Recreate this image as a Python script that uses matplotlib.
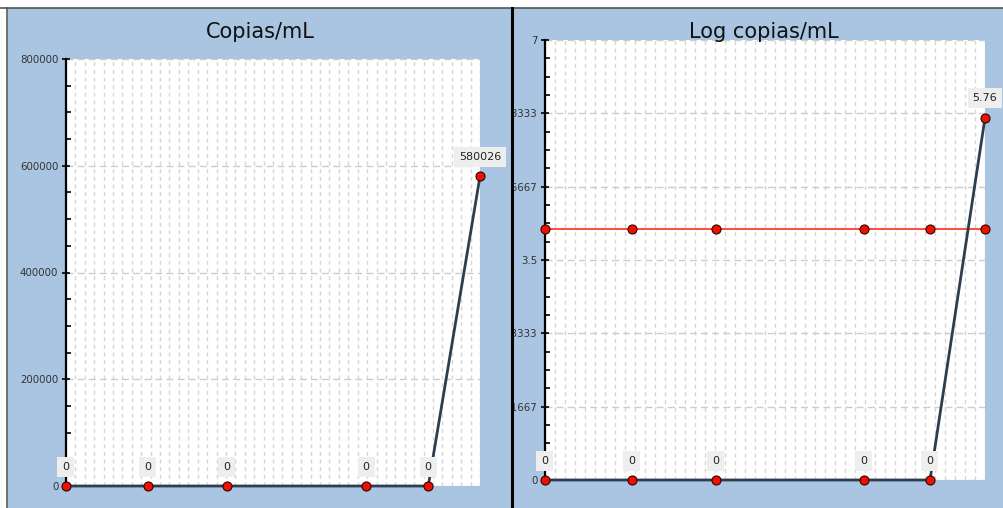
import matplotlib
matplotlib.use("Agg")
import matplotlib.pyplot as plt
from matplotlib.patches import Rectangle
from matplotlib.lines import Line2D
from matplotlib.ticker import MultipleLocator, FixedLocator, AutoMinorLocator
import matplotlib.transforms as mtransforms

# ---- data (x = months since first sample) ----
meses = [0, 8.7, 17.1, 31.9, 38.5, 44]
copias = [0, 0, 0, 0, 0, 580026]
log_copias = [0, 0, 0, 0, 0, 5.76]
umbral_log = [4, 4, 4, 4, 4, 4]
etiquetas_copias = ["0", "0", "0", "0", "0", "580026"]
etiquetas_log = ["0", "0", "0", "0", "0", "5.76"]

ticks_copias = [0, 200000, 400000, 600000, 800000]
ticks_log = [0, 7 / 6, 14 / 6, 3.5, 28 / 6, 35 / 6, 7]
ticks_log_txt = ["0", "1.1667", "2.3333", "3.5", "4.6667", "5.8333", "7"]

azul_fondo = "#a9c5e1"
color_linea = "#2e3d4f"
color_punto = "#ee1100"
color_umbral = "#ff4a3a"

W, H = 1004, 508
fig = plt.figure(figsize=(W / 100, H / 100), dpi=100)
fig.patch.set_facecolor("white")

def fx(px):
    return px / W

def fy(py):
    return 1 - py / H

# panel backgrounds
fig.add_artist(Rectangle((fx(8), 0), fx(503), fy(8), transform=fig.transFigure,
                         facecolor=azul_fondo, edgecolor="none", zorder=-10))
fig.add_artist(Rectangle((fx(514), 0), fx(490), fy(8), transform=fig.transFigure,
                         facecolor=azul_fondo, edgecolor="none", zorder=-10))
fig.add_artist(Line2D([0, 1], [fy(7.5)] * 2, transform=fig.transFigure,
                      color="#555555", lw=1.2, zorder=-5))
fig.add_artist(Line2D([fx(7.5)] * 2, [0, fy(7.5)], transform=fig.transFigure,
                      color="#555555", lw=1.2, zorder=-5))
fig.add_artist(Line2D([fx(512)] * 2, [0, fy(7.5)], transform=fig.transFigure,
                      color="black", lw=2.2, zorder=5))

fig.text(fx(260), fy(32), "Copias/mL", fontsize=15, ha="center", va="center", color="#111111")
fig.text(fx(764), fy(32), "Log copias/mL", fontsize=15, ha="center", va="center",
         color="#111111", zorder=10)


def preparar(ax, ymax, yticks):
    ax.set_facecolor("white")
    ax.set_xlim(meses[0], meses[-1])
    ax.set_ylim(0, ymax)
    for s in ["top", "right", "bottom"]:
        ax.spines[s].set_visible(False)
    ax.spines["left"].set_linewidth(1.6)
    ax.spines["left"].set_color("black")
    ax.xaxis.set_minor_locator(MultipleLocator(1))
    ax.set_xticks([])
    ax.tick_params(axis="x", which="both", length=0, labelbottom=False)
    ax.yaxis.set_major_locator(FixedLocator(yticks))
    ax.yaxis.set_minor_locator(AutoMinorLocator(4))
    ax.tick_params(axis="y", which="major", direction="inout", length=6, width=1.2,
                   labelsize=7.4, labelcolor="#333333", pad=2.5)
    ax.tick_params(axis="y", which="minor", direction="in", length=3.4, width=1.2)
    ax.grid(True, axis="x", which="minor", color="#d6d6d6", ls=(0, (3, 2.5)), lw=1)
    ax.grid(True, axis="y", which="major", color="#cccccc", ls=(0, (5, 3)), lw=1)
    ax.set_axisbelow(True)


def etiquetar(ax, ys, textos):
    for x, y, t in zip(meses, ys, textos):
        ax.annotate(t, xy=(x, y), xytext=(0, 14), textcoords="offset points",
                    ha="center", va="center", fontsize=8, color="#222222",
                    bbox=dict(boxstyle="square,pad=0.45", fc="#eeeeee", ec="none"),
                    annotation_clip=False, zorder=6)


# ---- left: copias/mL ----
ax1 = fig.add_axes([fx(66), fy(486), fx(414), (486 - 59) / H])
preparar(ax1, 800000, ticks_copias)
ax1.set_yticklabels([str(t) for t in ticks_copias])
ax1.plot(meses, copias, color=color_linea, lw=2, zorder=3, clip_on=False)
ax1.plot(meses, copias, "o", ms=6.5, mfc=color_punto, mec="#330000", mew=0.8,
         zorder=4, clip_on=False)
etiquetar(ax1, copias, etiquetas_copias)

# ---- right: log copias/mL ----
ax2 = fig.add_axes([fx(545), fy(480), fx(440), (480 - 40) / H])
preparar(ax2, 7, ticks_log)
ax2.set_yticklabels(ticks_log_txt)
ax2.plot(meses, umbral_log, color=color_umbral, lw=1.4, zorder=3, clip_on=False)
ax2.plot(meses, umbral_log, "o", ms=6.5, mfc=color_punto, mec="#330000", mew=0.8,
         zorder=4, clip_on=False)
ax2.plot(meses, log_copias, color=color_linea, lw=2, zorder=3, clip_on=False)
ax2.plot(meses, log_copias, "o", ms=6.5, mfc=color_punto, mec="#330000", mew=0.8,
         zorder=4, clip_on=False)
etiquetar(ax2, log_copias, etiquetas_log)

# tick labels of the right panel are cut at the panel edge, as in the screenshot
corte = mtransforms.TransformedBbox(
    mtransforms.Bbox.from_extents(fx(513.5), 0, 1, 1), fig.transFigure)
for tick in ax2.yaxis.get_major_ticks():
    tick.label1.set_clip_on(True)
    tick.label1.set_clip_box(corte)

fig.savefig("out.png", dpi=100, facecolor=fig.get_facecolor())
